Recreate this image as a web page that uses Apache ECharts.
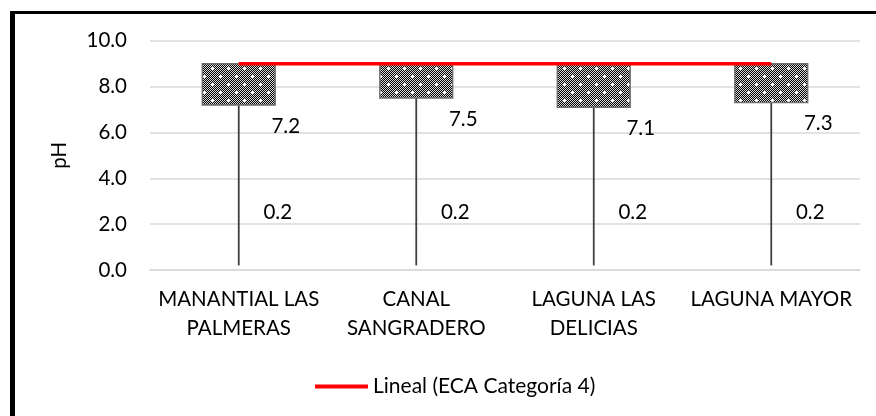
<!DOCTYPE html>
<html>
<head>
<meta charset="utf-8">
<script src="https://cdn.jsdelivr.net/npm/echarts@6/dist/echarts.min.js"></script>
<style>html,body{margin:0;padding:0;background:#fff;}#c{width:876px;height:416px;}</style>
</head>
<body>
<div id="c"></div>
<script>
const categories = ['MANANTIAL LAS\nPALMERAS', 'CANAL\nSANGRADERO', 'LAGUNA LAS\nDELICIAS', 'LAGUNA MAYOR'];
const lowValues = [0.2, 0.2, 0.2, 0.2];
const minValues = [7.2, 7.5, 7.1, 7.3];
const maxValues = [9.0, 9.0, 9.0, 9.0];
const ecaValues = [9.0, 9.0, 9.0, 9.0];
const yTicks = [0, 2, 4, 6, 8, 10];
const legendName = 'Lineal (ECA Categoría 4)';

const FONT = 'Lato';
const FS = 20.5;

function makePattern() {
  const c = document.createElement('canvas');
  const n = 16;
  c.width = n; c.height = n;
  const ctx = c.getContext('2d');
  ctx.fillStyle = '#000';
  ctx.fillRect(0, 0, n, n);
  ctx.fillStyle = '#d8d8d8';
  for (let y = 0; y < n; y++) {
    for (let x = 0; x < n; x++) {
      if ((x + y) % 2 === 0) ctx.fillRect(x, y, 1, 1);
    }
  }
  ctx.fillStyle = '#fff';
  function cross(cx, cy) {
    ctx.fillRect(cx - 1, cy, 3, 1);
    ctx.fillRect(cx, cy - 1, 1, 3);
  }
  cross(4, 4);
  cross(12, 12);
  return c;
}
const pattern = makePattern();

const customData = categories.map((c, i) => [i, lowValues[i], minValues[i], maxValues[i]]);

const chart = echarts.init(document.getElementById('c'), null, {renderer: 'canvas'});
chart.setOption({
  animation: false,
  backgroundColor: '#fff',
  textStyle: {fontFamily: FONT},
  grid: {left: 150, right: 16, top: 40.7, bottom: 146, containLabel: false},
  legend: {
    data: [{name: legendName, icon: 'rect'}],
    left: 310, top: 371,
    itemWidth: 53, itemHeight: 4, itemGap: 5,
    textStyle: {fontFamily: FONT, fontSize: 21, color: '#000'},
    selectedMode: false
  },
  xAxis: {
    type: 'category',
    data: categories,
    axisLine: {show: true, lineStyle: {color: '#d9d9d9', width: 1.5}},
    axisTick: {show: false},
    axisLabel: {fontFamily: FONT, fontSize: FS, color: '#000', lineHeight: 29, margin: 15, interval: 0}
  },
  yAxis: {
    type: 'value',
    min: yTicks[0], max: yTicks[yTicks.length - 1], interval: 2,
    name: 'pH',
    nameLocation: 'middle',
    nameGap: 80,
    nameRotate: 90,
    nameTextStyle: {fontFamily: FONT, fontSize: FS, color: '#000'},
    axisLine: {show: false},
    axisTick: {show: false},
    axisLabel: {fontFamily: FONT, fontSize: FS, color: '#000', margin: 23, formatter: v => v.toFixed(1)},
    splitLine: {lineStyle: {color: '#d9d9d9', width: 1.5}}
  },
  series: [
    {
      type: 'custom',
      name: 'box',
      data: customData,
      z: 2,
      renderItem: function (params, api) {
        const idx = api.value(0);
        const pLow = api.coord([idx, api.value(1)]);
        const pMin = api.coord([idx, api.value(2)]);
        const pMax = api.coord([idx, api.value(3)]);
        const bw = api.size([1, 0])[0] * 0.41;
        const cx = pMin[0];
        return {
          type: 'group',
          children: [
            {
              type: 'line',
              shape: {x1: cx, y1: pLow[1], x2: cx, y2: pMin[1]},
              style: {stroke: '#404040', lineWidth: 1.8}
            },
            {
              type: 'rect',
              shape: {x: cx - bw / 2, y: pMax[1], width: bw, height: pMin[1] - pMax[1]},
              style: {fill: {image: pattern, repeat: 'repeat'}, stroke: '#6f6f6f', lineWidth: 1.5}
            },
            {
              type: 'text',
              style: {text: api.value(2).toFixed(1), x: cx + 47, y: pMin[1] + 21, align: 'center', verticalAlign: 'middle',
                font: FS + 'px ' + FONT, fill: '#000'}
            },
            {
              type: 'text',
              style: {text: api.value(1).toFixed(1), x: cx + 39, y: pLow[1] - 53, align: 'center', verticalAlign: 'middle',
                font: FS + 'px ' + FONT, fill: '#000'}
            }
          ]
        };
      }
    },
    {
      type: 'line',
      name: legendName,
      data: ecaValues,
      z: 5,
      symbol: 'none',
      lineStyle: {color: '#ff0000', width: 3.5},
      itemStyle: {color: '#ff0000'}
    }
  ],
  graphic: [
    {type: 'rect', shape: {x: 10, y: 11, width: 5, height: 405}, style: {fill: '#000'}, z: 100},
    {type: 'rect', shape: {x: 10, y: 11, width: 866, height: 3}, style: {fill: '#000'}, z: 100}
  ]
});
</script>
</body>
</html>
